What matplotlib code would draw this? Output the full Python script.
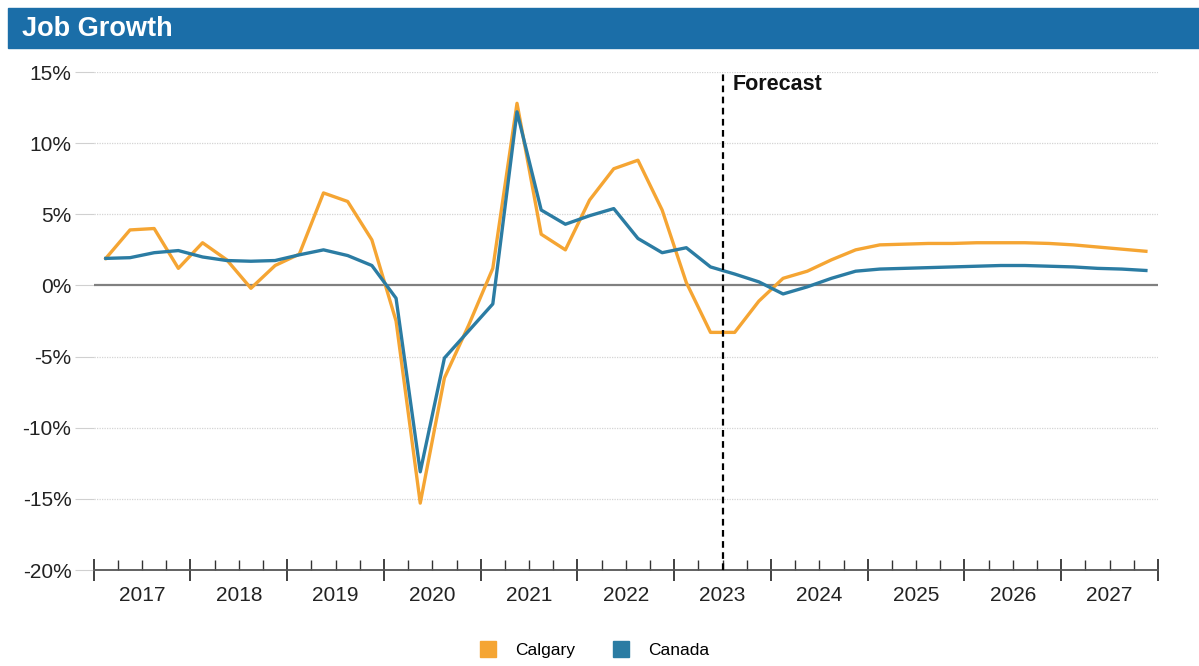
import matplotlib
matplotlib.use("Agg")
import matplotlib.pyplot as plt
import numpy as np
from matplotlib.patches import Rectangle
from matplotlib.ticker import FixedLocator, FuncFormatter

plt.rcParams["font.family"] = ["Liberation Sans", "DejaVu Sans"]

# ---------------------------------------------------------------------------
# Data: quarterly job growth (%), 2017Q1 .. 2027Q4
# ---------------------------------------------------------------------------

years = [2017, 2018, 2019, 2020, 2021, 2022, 2023, 2024, 2025, 2026, 2027]
calgary = [1.9, 3.9, 4.0, 1.2, 3.0, 1.8, -0.2, 1.4,      # 2017-2018
           2.2, 6.5, 5.9, 3.2, -2.5, -15.3, -6.5, -2.8,   # 2019-2020
           1.2, 12.8, 3.6, 2.5, 6.0, 8.2, 8.8, 5.3,       # 2021-2022
           0.2, -3.3, -3.3, -1.1, 0.5, 1.0, 1.8, 2.5,     # 2023-2024
           2.85, 2.9, 2.95, 2.95, 3.0, 3.0, 3.0, 2.95,    # 2025-2026
           2.85, 2.7, 2.55, 2.4]                          # 2027
canada = [1.9, 1.95, 2.3, 2.45, 2.0, 1.75, 1.7, 1.75,
          2.15, 2.5, 2.1, 1.4, -0.9, -13.1, -5.1, -3.2,
          -1.3, 12.2, 5.3, 4.3, 4.9, 5.4, 3.3, 2.3,
          2.65, 1.3, 0.8, 0.25, -0.6, -0.1, 0.5, 1.0,
          1.15, 1.2, 1.25, 1.3, 1.35, 1.4, 1.4, 1.35,
          1.3, 1.2, 1.15, 1.05]
forecast_start = 25.5   # between 2023Q2 and 2023Q3
y_ticks = [-20, -15, -10, -5, 0, 5, 10, 15]

ORANGE = "#F5A533"
BLUE = "#2B7CA3"
BAR = "#1B6EA8"

# ---------------------------------------------------------------------------
# Figure
# ---------------------------------------------------------------------------

fig = plt.figure(figsize=(11.99, 6.66), dpi=100)
fig.patches.append(Rectangle((8 / 1199, 1 - 48 / 666), 1 - 8 / 1199, 40 / 666,
                             transform=fig.transFigure, color=BAR, zorder=0))
fig.text(22 / 1199, 1 - 29 / 666, "Job Growth", color="white", fontsize=19.5,
         fontweight="bold", va="center", ha="left")

ax = fig.add_axes([93.7 / 1199, 1 - 570 / 666, (1158 - 93.7) / 1199, (570 - 72) / 666])

x = np.arange(len(calgary))
ax.plot(x, calgary, color=ORANGE, lw=2.4, label="Calgary", zorder=3)
ax.plot(x, canada, color=BLUE, lw=2.4, label="Canada", zorder=4)

ax.set_xlim(-0.5, len(years) * 4 - 0.5)
ax.set_ylim(-20, 15)

# y axis
ax.set_yticks(y_ticks)
ax.yaxis.set_major_formatter(FuncFormatter(lambda v, _: f"{v:.0f}%"))
ax.tick_params(axis="y", length=14, color="#d0d0d0", labelsize=15, pad=2,
               labelcolor="#222222")
for v in y_ticks:
    if v == 0:
        ax.axhline(0, color="#808080", lw=1.6, zorder=2)
    elif v != -20:
        ax.axhline(v, color="#d4d4d4", lw=0.9, ls=(0, (1, 1)), zorder=1)

# x axis: year ticks at boundaries, quarter minor ticks, labels centred
bounds = np.arange(len(years) + 1) * 4 - 0.5
ax.xaxis.set_major_locator(FixedLocator(bounds))
ax.xaxis.set_minor_locator(FixedLocator([b + q for b in bounds[:-1] for q in (1, 2, 3)]))
ax.set_xticklabels([])
ax.tick_params(axis="x", which="major", direction="inout", length=16, width=1.3, color="#333333")
ax.tick_params(axis="x", which="minor", direction="in", length=7, width=1.0, color="#333333")
for i, yr in enumerate(years):
    ax.text(i * 4 + 1.5, -21.1, str(yr), ha="center", va="top", fontsize=15,
            color="#222222")

for side in ["top", "right", "left"]:
    ax.spines[side].set_visible(False)
ax.spines["bottom"].set_color("#555555")
ax.spines["bottom"].set_linewidth(1.3)

# forecast marker
ax.axvline(forecast_start, color="black", lw=1.6, ls=(0, (3, 2)), zorder=5,
           ymin=0, ymax=1.005, clip_on=False)
ax.text(forecast_start + 0.4, 14.1, "Forecast", fontsize=15.5, fontweight="bold",
        ha="left", va="center", color="#111111")

# legend
handles = [plt.Line2D([], [], marker="s", ls="", color=ORANGE, markersize=11),
           plt.Line2D([], [], marker="s", ls="", color=BLUE, markersize=11)]
fig.legend(handles, ["Calgary", "Canada"], loc="center", ncol=2, frameon=False,
           bbox_to_anchor=(590 / 1199, 1 - 650 / 666), fontsize=12.5,
           handletextpad=0.6, columnspacing=1.6)

plt.savefig("out.png", dpi=100)
